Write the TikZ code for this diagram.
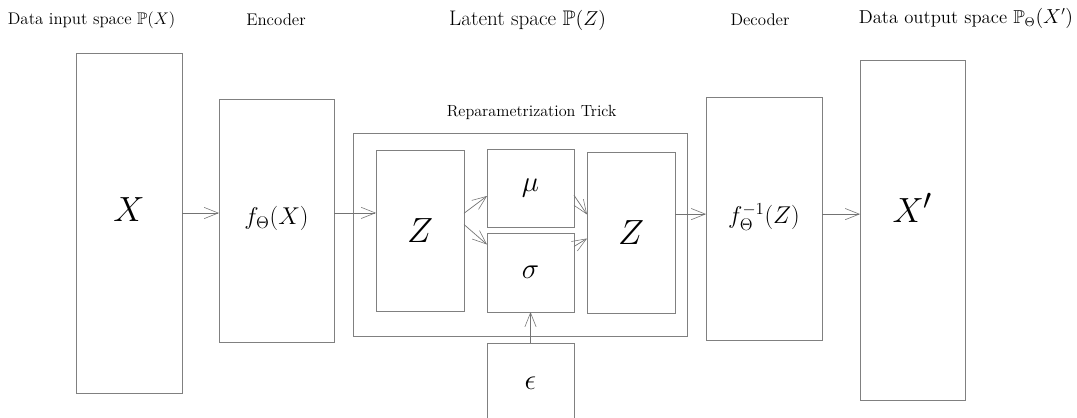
\documentclass[tikz,border=0pt]{standalone}
\usepackage{amsmath}
\usepackage{amssymb}
\usetikzlibrary{arrows.meta, positioning, calc}

\begin{document}
\begin{tikzpicture}[
    box/.style={
        rectangle,
        draw=black!50,
        line width=0.5pt,
        inner sep=0pt,
        outer sep=0pt
    },
    title/.style={
        font=\large
    },
    arrow/.style={
        -{Straight Barb[length=10pt, width=8pt, line width=0.4pt]},
        draw=black!55,
        line width=0.5pt
    }
]
    \useasboundingbox (0,0) rectangle (26.925,-10.45);

    % --- headings ---
    \node[title] (t_in) at (2.29, -0.5) {Data input space $\mathbb{P}(X)$};
    \node[title] (t_enc) at (6.9, -0.5) {Encoder};
    \node[title, font=\fontsize{15}{18}\selectfont] (t_lat) at (13.19, -0.5) {Latent space $\mathbb{P}(Z)$};
    \node[title] (t_dec) at (19.0, -0.5) {Decoder};
    \node[title, font=\fontsize{13.3}{16}\selectfont] (t_out) at (24.15, -0.45) {Data output space $\mathbb{P}_\Theta(X')$};

    % --- main blocks ---
    \node[box, minimum width=2.65cm, minimum height=8.5cm, font=\Huge] (xin) at (3.225, -5.575) {\raisebox{0.65cm}{$X$}};
    \node[box, minimum width=2.875cm, minimum height=6.075cm, font=\LARGE] (enc) at (6.9125, -5.5125) {\raisebox{0.25cm}{$f_\Theta(X)$}};
    \node[box, minimum width=8.35cm, minimum height=5.075cm] (trick) at (13.0, -5.8625) {};
    \node[font=\fontsize{11.5}{14}\selectfont] (t_trick) at (13.29, -2.8) {Reparametrization Trick};
    \node[box, minimum width=2.9cm, minimum height=6.075cm, font=\LARGE] (dec) at (19.1, -5.4625) {\raisebox{0.25cm}{$f_\Theta^{-1}(Z)$}};
    \node[box, minimum width=2.625cm, minimum height=8.5cm, font=\Huge] (xout) at (22.8125, -5.75) {\raisebox{1.1cm}{$X'$}};

    % --- inside the trick ---
    \node[box, minimum width=2.2cm, minimum height=4.025cm, font=\Huge] (zl) at (10.5, -5.7625) {\raisebox{-0.25cm}{$Z$}};
    \node[box, minimum width=2.175cm, minimum height=1.95cm, font=\huge] (mu) at (13.2625, -4.7) {$\mu$};
    \node[box, minimum width=2.175cm, minimum height=1.975cm, font=\huge] (sigma) at (13.2625, -6.8125) {$\sigma$};
    \node[box, minimum width=2.2cm, minimum height=4.025cm, font=\Huge] (zr) at (15.775, -5.8125) {\raisebox{-0.4cm}{$Z$}};
    \node[box, minimum width=2.175cm, minimum height=2.25cm, font=\huge] (eps) at (13.2625, -9.7) {\raisebox{0.25cm}{$\epsilon$}};

    % --- connectors ---
    \draw[arrow] ([yshift=0.25cm]xin.east) -- ([yshift=0.25cm]xin.east -| enc.west);
    \draw[arrow] ([yshift=0.19cm]enc.east) -- ([yshift=0.19cm]enc.east -| zl.west);
    \draw[arrow] ([yshift=0.43cm]zl.east) -- ([yshift=-0.2cm]mu.west);
    \draw[arrow] ([yshift=0.15cm]zl.east) -- ([yshift=0.7cm]sigma.west);
    \draw[arrow] ([yshift=-0.18cm]mu.east) -- ([yshift=0.45cm]zr.west);
    \draw[arrow] ([yshift=0.65cm]sigma.east) -- ([yshift=-0.15cm]zr.west);
    \draw[arrow] (eps.north) -- (sigma.south);
    \draw[arrow] ([yshift=0.46cm]zr.east) -- ([yshift=0.46cm]zr.east -| dec.west);
    \draw[arrow] ([yshift=0.11cm]dec.east) -- ([yshift=0.11cm]dec.east -| xout.west);

\end{tikzpicture}
\end{document}
